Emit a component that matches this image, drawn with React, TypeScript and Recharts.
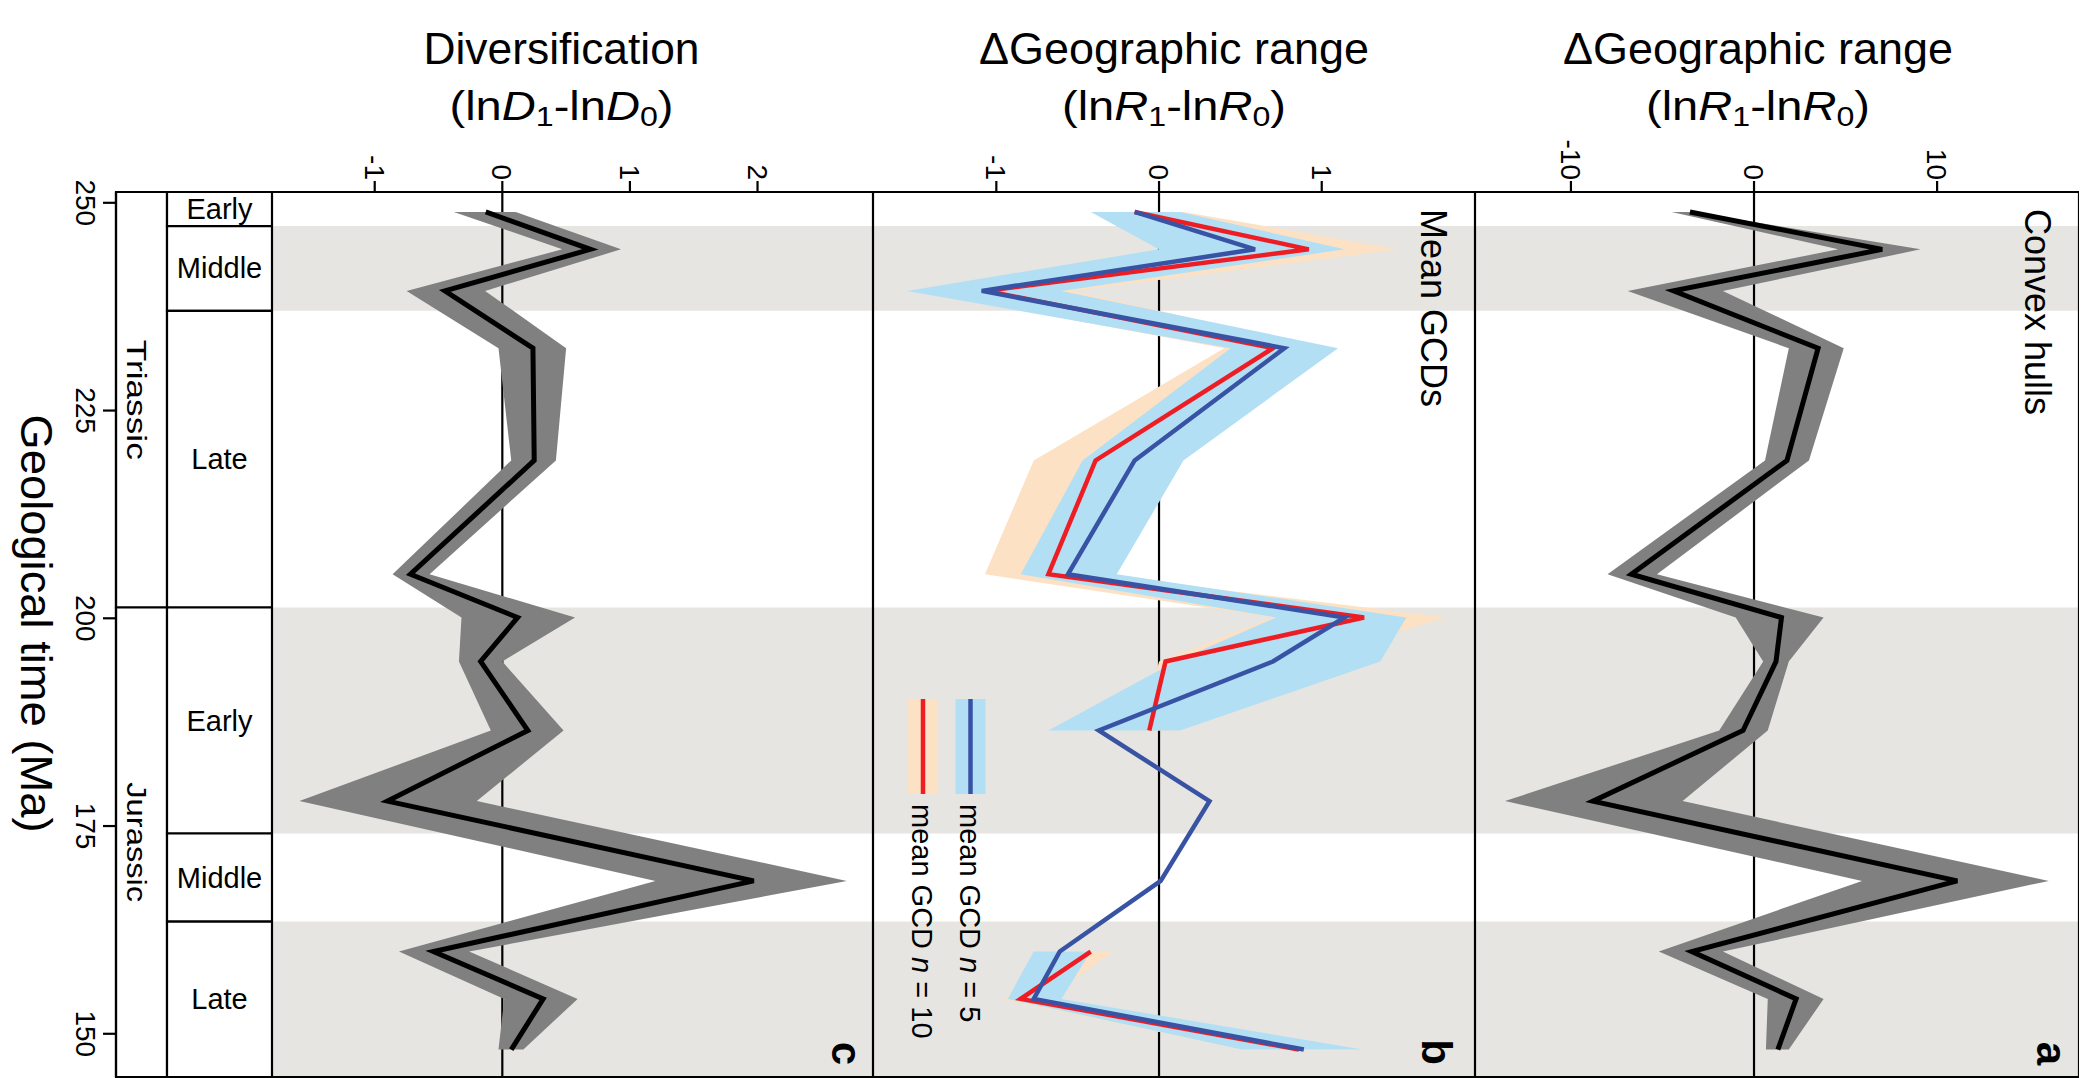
import React from 'react'
import {
  ComposedChart,
  Line,
  Area,
  XAxis,
  YAxis,
  ReferenceArea,
  ReferenceLine,
  Legend,
} from 'recharts'

document.body.style.margin = '0'

// stage mid-point ages (Ma)
const AGES = [248.9, 244.4, 239.4, 232.5, 219.0, 205.3, 200.1, 194.8, 186.5, 178.0, 168.4, 159.9, 154.2, 148.1]

// c: diversification (lnD1 - lnD0)
const DIV_MEAN = [-0.13, 0.69, -0.45, 0.24, 0.25, -0.72, 0.12, -0.17, 0.2, -0.9, 1.97, -0.54, 0.32, 0.07]
const DIV_LO = [-0.38, 0.47, -0.75, -0.03, 0.07, -0.86, -0.32, -0.34, -0.09, -1.59, 1.2, -0.81, 0.015, -0.03]
const DIV_HI = [0.105, 0.93, -0.135, 0.5, 0.42, -0.57, 0.57, 0.0, 0.48, -0.2, 2.7, -0.26, 0.59, 0.165]

// b: mean great-circle distances, n = 5 and n = 10
const GCD5_MEAN = [-0.15, 0.59, -1.09, 0.77, -0.15, -0.56, 1.14, 0.7, -0.37, 0.31, 0.01, -0.61, -0.77, 0.89]
const GCD5_LO = [-0.42, 0.0, -1.55, 0.44, -0.47, -0.85, 0.72, 0.1, -0.68, null, null, -0.77, -0.93, 0.51]
const GCD5_HI = [0.13, 1.14, -0.6, 1.1, 0.15, -0.26, 1.52, 1.36, 0.13, null, null, -0.42, -0.6, 1.25]
const GCD10_MEAN = [-0.15, 0.92, -1.06, 0.7, -0.39, -0.68, 1.26, 0.04, -0.06, null, null, -0.42, -0.85, 0.86]
const GCD10_LO = [-0.12, 0.4, -1.5, 0.4, -0.77, -1.07, 0.7, 0.0, -0.11, null, null, -0.44, -0.96, 0.51]
const GCD10_HI = [0.15, 1.47, -0.53, 1.0, -0.05, -0.4, 1.77, 0.84, 0.14, null, null, -0.28, -0.7, 1.24]

// a: convex hulls
const HULL_MEAN = [-3.5, 7.0, -4.4, 3.5, 1.8, -6.7, 1.5, 1.2, -0.6, -8.8, 11.1, -3.4, 2.3, 1.3]
const HULL_LO = [-4.5, 4.6, -6.9, 1.9, 0.6, -8.0, -1.0, 0.5, -1.9, -13.6, 5.9, -5.2, 0.75, 0.65]
const HULL_HI = [-3.4, 9.1, -1.7, 4.9, 3.0, -5.3, 3.8, 1.9, 0.75, -3.9, 16.1, -1.7, 3.8, 1.9]

const TIME_TICKS = [150, 175, 200, 225, 250]
const DIV_TICKS = [-1, 0, 1, 2]
const GCD_TICKS = [-1, 0, 1]
const HULL_TICKS = [-10, 0, 10]

const TIME_DOMAIN = [144.8, 251.3]

const PERIODS = [
  { name: 'Triassic', from: 251.3, to: 201.3 },
  { name: 'Jurassic', from: 201.3, to: 144.8 },
]
const STAGES = [
  { name: 'Early', from: 251.3, to: 247.2 },
  { name: 'Middle', from: 247.2, to: 237.0 },
  { name: 'Late', from: 237.0, to: 201.3 },
  { name: 'Early', from: 201.3, to: 174.1 },
  { name: 'Middle', from: 174.1, to: 163.5 },
  { name: 'Late', from: 163.5, to: 144.8 },
]
const SHADED = [
  [247.2, 237.0],
  [201.3, 174.1],
  [163.5, 144.8],
]

const H = 1078
const AXIS_H = 192
const FONT = "'Liberation Sans', Arial, Helvetica, sans-serif"
const INK = '#000'
const SHADE = '#e6e5e1'
const GREY = '#808080'
const BLUE = '#3953a4'
const BLUE_BAND = '#b3dff5'
const RED = '#ee1d23'
const ORANGE_BAND = '#fde1c4'
const LW = 2.2

const band = (lo: (number | null)[], hi: (number | null)[]) =>
  lo.map((v, i) => (v == null || hi[i] == null ? null : [v, hi[i]]))

// split a series with gaps into runs, so every run is drawn as its own line
const runs = (arr: (number | null)[]) => {
  const out: (number | null)[][] = []
  let cur: (number | null)[] | null = null
  arr.forEach((v, i) => {
    if (v == null) {
      cur = null
      return
    }
    if (!cur) {
      cur = arr.map(() => null)
      out.push(cur)
    }
    cur[i] = v
  })
  return out
}

const divBand = band(DIV_LO, DIV_HI)
const gcd5Band = band(GCD5_LO, GCD5_HI)
const gcd10Band = band(GCD10_LO, GCD10_HI)
const hullBand = band(HULL_LO, HULL_HI)
const gcd10Runs = runs(GCD10_MEAN)

const rows = AGES.map((t, i) => {
  const row: Record<string, any> = {
    t,
    div: DIV_MEAN[i],
    divBand: divBand[i],
    gcd5: GCD5_MEAN[i],
    gcd5Band: gcd5Band[i],
    gcd10Band: gcd10Band[i],
    hull: HULL_MEAN[i],
    hullBand: hullBand[i],
  }
  gcd10Runs.forEach((r, k) => {
    if (r[i] != null) row[`gcd10_${k}`] = r[i]
  })
  return row
})

function XTick(props: any) {
  const { x, y, payload } = props
  return (
    <text transform={`translate(${x - 10},${y}) rotate(90)`} textAnchor="end" fontSize={28} fill={INK}>
      {payload.value}
    </text>
  )
}

function TimeTick(props: any) {
  const { x, y, payload } = props
  return (
    <text transform={`translate(${x - 19},${y}) rotate(90)`} textAnchor="middle" fontSize={28} fill={INK}>
      {payload.value}
    </text>
  )
}

function Title({ viewBox, head, sym, dx, headLen }: any) {
  const cx = viewBox.x + viewBox.width / 2 + dx
  return (
    <g fill={INK}>
      <text x={cx} y={64} textAnchor="middle" fontSize={44} textLength={headLen} lengthAdjust="spacingAndGlyphs">
        {head}
      </text>
      <text x={cx} y={120} textAnchor="middle" fontSize={41} textLength={224} lengthAdjust="spacingAndGlyphs">
        (ln<tspan fontStyle="italic">{sym}</tspan>
        <tspan fontSize={28} dy={6}>1</tspan>
        <tspan dy={-6}>-ln</tspan>
        <tspan fontStyle="italic">{sym}</tspan>
        <tspan fontSize={28} dy={6}>0</tspan>
        <tspan dy={-6}>)</tspan>
      </text>
    </g>
  )
}

function PanelNote({ viewBox, letter, letterInset, note }: any) {
  const right = viewBox.x + viewBox.width
  const bottom = viewBox.y + viewBox.height
  return (
    <g fill={INK}>
      <text
        transform={`translate(${right - letterInset},${bottom - 12}) rotate(90)`}
        textAnchor="end"
        fontSize={42}
        fontWeight="bold"
      >
        {letter}
      </text>
      {note && (
        <text transform={`translate(${right - 54},${viewBox.y + 17}) rotate(90)`} fontSize={36}>
          {note}
        </text>
      )}
    </g>
  )
}

function GcdLegend() {
  const items = [
    { label: '10', fill: ORANGE_BAND, stroke: RED },
    { label: '5', fill: BLUE_BAND, stroke: BLUE },
  ]
  return (
    <svg width={80} height={360} style={{ fontFamily: FONT, overflow: 'visible' }}>
      {items.map((it, i) => {
        const x0 = i * 47.5
        return (
          <g key={it.label}>
            <rect x={x0} y={0} width={30} height={95} fill={it.fill} />
            <line x1={x0 + 15} x2={x0 + 15} y1={0} y2={95} stroke={it.stroke} strokeWidth={4.5} />
            <text transform={`translate(${x0 + 4},105) rotate(90)`} fontSize={29} fill={INK}>
              mean GCD <tspan fontStyle="italic">n</tspan> = {it.label}
            </text>
          </g>
        )
      })}
    </svg>
  )
}

function Panel({ width, domain, ticks, head, sym, headLen, titleDx, letter, letterInset, note, children }: any) {
  return (
    <ComposedChart
      width={width}
      height={H}
      data={rows}
      layout="vertical"
      margin={{ top: 0, right: 0, bottom: 1, left: 0 }}
    >
      <XAxis
        type="number"
        orientation="top"
        domain={domain}
        ticks={ticks}
        interval={0}
        allowDataOverflow
        height={AXIS_H}
        tickSize={11}
        tickMargin={1}
        stroke={INK}
        strokeWidth={LW}
        tick={<XTick />}
        label={(p: any) => <Title viewBox={p.viewBox} head={head} sym={sym} dx={titleDx} headLen={headLen} />}
      />
      <YAxis type="number" dataKey="t" domain={TIME_DOMAIN} allowDataOverflow reversed hide />
      {SHADED.map(([a, b]) => (
        <ReferenceArea key={a} y1={a} y2={b} fill={SHADE} fillOpacity={1} stroke="none" zIndex={10} />
      ))}
      <ReferenceLine x={0} stroke={INK} strokeWidth={LW} zIndex={20} />
      {children}
      <ReferenceArea
        x1={domain[0]}
        x2={domain[1]}
        y1={TIME_DOMAIN[0]}
        y2={TIME_DOMAIN[1]}
        fill="none"
        stroke={INK}
        strokeWidth={LW}
        ifOverflow="visible"
        zIndex={90}
        label={(p: any) => <PanelNote viewBox={p.viewBox} letter={letter} letterInset={letterInset} note={note} />}
      />
    </ComposedChart>
  )
}

function TimeScale() {
  const split = 0.327
  return (
    <ComposedChart
      width={272}
      height={H}
      data={rows}
      layout="vertical"
      margin={{ top: AXIS_H, right: 0, bottom: 1, left: 0 }}
    >
      <XAxis type="number" dataKey="t" domain={[0, 1]} allowDataOverflow hide />
      <YAxis
        type="number"
        dataKey="t"
        domain={TIME_DOMAIN}
        allowDataOverflow
        reversed
        ticks={TIME_TICKS}
        interval={0}
        width={116}
        tickSize={13}
        tickMargin={8}
        stroke={INK}
        strokeWidth={LW}
        tick={<TimeTick />}
        label={(p: any) => (
          <text
            transform={`translate(21,${p.viewBox.y + p.viewBox.height / 2 - 11}) rotate(90)`}
            textAnchor="middle"
            fontSize={44}
            textLength={418}
            lengthAdjust="spacingAndGlyphs"
            fill={INK}
          >
            Geological time (Ma)
          </text>
        )}
      />
      {PERIODS.map((p) => (
        <ReferenceArea
          key={p.name}
          x1={0}
          x2={split}
          y1={p.to}
          y2={p.from}
          fill="#fff"
          fillOpacity={1}
          stroke={INK}
          strokeWidth={LW}
          ifOverflow="visible"
          label={(l: any) => (
            <text
              transform={`translate(${l.viewBox.x + 11},${l.viewBox.y + l.viewBox.height / 2}) rotate(90)`}
              textAnchor="middle"
              fontSize={28}
              textLength={p.name.length * 15}
              lengthAdjust="spacingAndGlyphs"
              fill={INK}
            >
              {p.name}
            </text>
          )}
        />
      ))}
      {STAGES.map((s) => (
        <ReferenceArea
          key={s.from}
          x1={split}
          x2={1}
          y1={s.to}
          y2={s.from}
          fill="#fff"
          fillOpacity={1}
          stroke={INK}
          strokeWidth={LW}
          ifOverflow="visible"
          label={(l: any) => (
            <text
              x={l.viewBox.x + l.viewBox.width / 2}
              y={l.viewBox.y + l.viewBox.height / 2 + 10}
              textAnchor="middle"
              fontSize={29}
              fill={INK}
            >
              {s.name}
            </text>
          )}
        />
      ))}
    </ComposedChart>
  )
}

export default function App() {
  const pos = (left: number): React.CSSProperties => ({ position: 'absolute', left, top: 0 })
  return (
    <div style={{ position: 'relative', width: 2091, height: H, background: '#fff', fontFamily: FONT, overflow: 'hidden' }}>
      <div style={pos(0)}>
        <TimeScale />
      </div>
      <div style={pos(272)}>
        <Panel
          width={601}
          domain={[-1.805, 2.905]}
          ticks={DIV_TICKS}
          head="Diversification"
          headLen={276}
          sym="D"
          titleDx={-11}
          letter="c"
          letterInset={41}
        >
          <Area
            type="linear"
            dataKey="divBand"
            fill={GREY}
            fillOpacity={1}
            stroke="none"
            dot={false}
            activeDot={false}
            isAnimationActive={false}
            zIndex={30}
          />
          <Line
            type="linear"
            dataKey="div"
            stroke={INK}
            strokeWidth={5}
            strokeLinejoin="miter"
            dot={false}
            activeDot={false}
            isAnimationActive={false}
            zIndex={50}
          />
        </Panel>
      </div>
      <div style={pos(873)}>
        <Panel
          width={602}
          domain={[-1.758, 1.942]}
          ticks={GCD_TICKS}
          head="ΔGeographic range"
          headLen={390}
          sym="R"
          titleDx={0}
          letter="b"
          letterInset={53}
          note="Mean GCDs"
        >
          <Area
            type="linear"
            dataKey="gcd10Band"
            fill={ORANGE_BAND}
            fillOpacity={1}
            stroke="none"
            dot={false}
            activeDot={false}
            isAnimationActive={false}
            zIndex={30}
          />
          <Area
            type="linear"
            dataKey="gcd5Band"
            fill={BLUE_BAND}
            fillOpacity={1}
            stroke="none"
            dot={false}
            activeDot={false}
            isAnimationActive={false}
            zIndex={35}
          />
          {gcd10Runs.map((_, k) => (
            <Line
              key={k}
              type="linear"
              dataKey={`gcd10_${k}`}
              stroke={RED}
              strokeWidth={4.5}
              strokeLinejoin="miter"
              dot={false}
              activeDot={false}
              isAnimationActive={false}
              zIndex={50}
            />
          ))}
          <Line
            type="linear"
            dataKey="gcd5"
            stroke={BLUE}
            strokeWidth={4.5}
            strokeLinejoin="miter"
            dot={false}
            activeDot={false}
            isAnimationActive={false}
            zIndex={55}
          />
          <Legend
            layout="horizontal"
            verticalAlign="middle"
            align="center"
            wrapperStyle={{ left: 35, top: 699, width: 80, height: 360 }}
            content={() => <GcdLegend />}
          />
        </Panel>
      </div>
      <div style={pos(1475)}>
        <Panel
          width={604}
          domain={[-15.24, 17.75]}
          ticks={HULL_TICKS}
          head="ΔGeographic range"
          headLen={390}
          sym="R"
          titleDx={-19}
          letter="a"
          letterInset={42}
          note="Convex hulls"
        >
          <Area
            type="linear"
            dataKey="hullBand"
            fill={GREY}
            fillOpacity={1}
            stroke="none"
            dot={false}
            activeDot={false}
            isAnimationActive={false}
            zIndex={30}
          />
          <Line
            type="linear"
            dataKey="hull"
            stroke={INK}
            strokeWidth={5}
            strokeLinejoin="miter"
            dot={false}
            activeDot={false}
            isAnimationActive={false}
            zIndex={50}
          />
        </Panel>
      </div>
    </div>
  )
}
